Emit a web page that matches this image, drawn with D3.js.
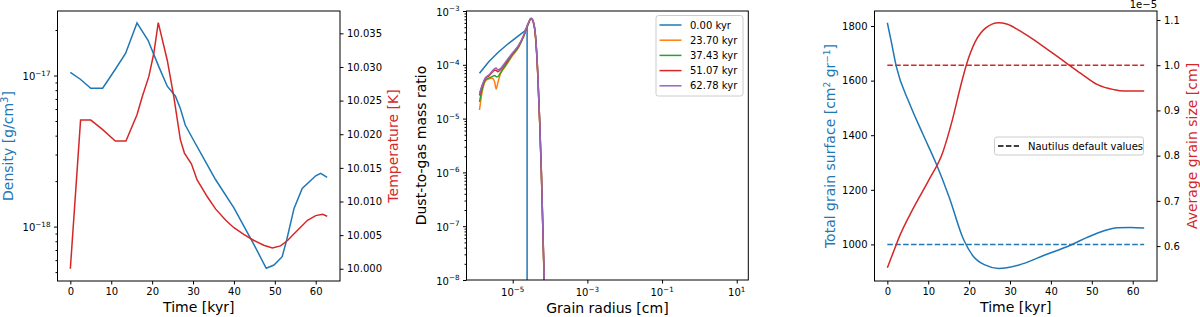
<!DOCTYPE html>
<html>
<head>
<meta charset="utf-8">
<script src="https://cdn.jsdelivr.net/npm/d3@7"></script>
<style>
body { margin: 0; background: #fff; }
svg { font-family: "DejaVu Sans", sans-serif; }
</style>
</head>
<body>
<svg id="chart" width="1200" height="317"></svg>
<script>
// ---- data ----
// panel 1 : density and temperature vs time
const densTime = [0, 2.45, 5.0, 7.9, 11.0, 13.5, 16.3, 19.0, 21.6, 23.7, 25.7, 26.9, 28.1, 30.2, 33.9, 35.5, 40.0, 44.9, 47.9, 49.8, 51.8, 52.9, 54.7, 56.7, 60.0, 61.2, 62.8];
const density = [1.05e-17, 9.45e-18, 8.24e-18, 8.24e-18, 1.10e-17, 1.40e-17, 2.23e-17, 1.71e-17, 1.15e-17, 8.5e-18, 7.3e-18, 6.06e-18, 4.7e-18, 3.7e-18, 2.45e-18, 2.05e-18, 1.33e-18, 7.6e-19, 5.3e-19, 5.57e-19, 6.32e-19, 8.15e-19, 1.32e-18, 1.79e-18, 2.17e-18, 2.25e-18, 2.12e-18];
const tempTime = [0, 2.5, 5.0, 7.7, 11.0, 13.6, 16.3, 17.6, 19.2, 20.4, 21.5, 23.7, 25.3, 26.9, 27.9, 29.6, 31.0, 33.5, 35.5, 38.0, 40.0, 42.4, 44.9, 47.3, 49.4, 51.4, 53.1, 55.5, 58.0, 60.0, 61.7, 62.8];
const temperature = [10.0000, 10.0221, 10.0221, 10.0208, 10.0190, 10.0190, 10.0229, 10.0256, 10.0286, 10.0320, 10.0366, 10.0310, 10.0256, 10.0192, 10.0172, 10.0156, 10.0132, 10.0107, 10.0089, 10.0072, 10.0061, 10.0051, 10.0042, 10.0035, 10.0031, 10.0034, 10.0042, 10.0057, 10.0072, 10.0079, 10.0081, 10.0078];
const densTicks = [1e-18, 1e-17];
const tempTicks = [10.000, 10.005, 10.010, 10.015, 10.020, 10.025, 10.030, 10.035];
const timeTicks = [0, 10, 20, 30, 40, 50, 60];

// panel 2 : dust-to-gas mass ratio vs grain radius (log10 values)
const snapLabels = ["0.00 kyr", "23.70 kyr", "37.43 kyr", "51.07 kyr", "62.78 kyr"];
const snapColors = ["#1f77b4", "#ff7f0e", "#2ca02c", "#d62728", "#9467bd"];
const radiusLog0 = [-5.890, -5.642, -5.374, -5.107, -4.840, -4.679, -4.615, -4.615];
const ratioLog0 = [-4.158, -3.942, -3.757, -3.600, -3.459, -3.372, -3.30, -12];
const radiusLog = [-5.890, -5.818, -5.730, -5.642, -5.551, -5.484, -5.444, -5.401, -5.329, -5.195, -5.016, -4.840, -4.706, -4.588, -4.508, -4.452, -4.393, -4.332, -4.278, -4.233, -4.198, -4.152, -4.107];
const ratioLog23 = [-4.84, -4.50, -4.30, -4.26, -4.25, -4.32, -4.45, -4.34, -4.17, -4.03, -3.84, -3.67, -3.47, -3.25, -3.14, -3.20, -3.46, -4.16, -5.09, -6.02, -6.95, -8.20, -9.45];
const ratioLog37 = [-4.69, -4.45, -4.28, -4.25, -4.22, -4.20, -4.22, -4.22, -4.15, -4.01, -3.82, -3.66, -3.47, -3.25, -3.14, -3.20, -3.45, -4.13, -5.06, -5.99, -6.92, -8.16, -9.40];
const ratioLog51 = [-4.57, -4.40, -4.25, -4.21, -4.14, -4.10, -4.10, -4.13, -4.09, -3.97, -3.80, -3.645, -3.46, -3.24, -3.14, -3.195, -3.44, -4.12, -5.05, -5.98, -6.91, -8.14, -9.40];
const ratioLog62 = [-4.53, -4.375, -4.24, -4.19, -4.12, -4.07, -4.06, -4.09, -4.07, -3.95, -3.79, -3.635, -3.45, -3.23, -3.136, -3.19, -3.43, -4.10, -5.03, -5.96, -6.89, -8.12, -9.40];
const radiusTickExp = [-5, -3, -1, 1];
const ratioTickExp = [-8, -7, -6, -5, -4, -3];

// panel 3 : total grain surface and average grain size vs time
const surfTime = [0, 1.0, 2.2, 5.4, 8.6, 11.9, 15.1, 18.7, 21.1, 24.0, 27.2, 32.0, 38.5, 44.9, 48.9, 53.0, 56.2, 59.4, 62.8];
const surface = [1812, 1740, 1651, 1517, 1407, 1297, 1174, 1016, 955, 924, 912, 924, 961, 998, 1026, 1050, 1061, 1062, 1060];
const sizeTime = [0, 1.4, 3.0, 6.2, 10.2, 13.5, 15.9, 17.9, 19.3, 21.5, 24.0, 27.2, 29.2, 32.0, 35.2, 39.3, 43.3, 47.3, 51.4, 55.4, 57.8, 60.0, 62.8];
const grainSize = [0.552, 0.585, 0.622, 0.681, 0.747, 0.806, 0.879, 0.953, 1.0, 1.052, 1.082, 1.094, 1.091, 1.078, 1.060, 1.034, 1.008, 0.982, 0.957, 0.946, 0.943, 0.943, 0.943]; // x 1e-5 cm
const defaultSurface = 1000;
const defaultSize = 1.0;
const surfTicks = [1000, 1200, 1400, 1600, 1800];
const sizeTicks = [0.6, 0.7, 0.8, 0.9, 1.0, 1.1];

// ---- drawing ----
const BLUE = "#1f77b4", RED = "#d62728";
const svg = d3.select("#chart");

function frame(b) {
    svg.append("rect")
        .attr("x", b.x0).attr("y", b.y0)
        .attr("width", b.x1 - b.x0).attr("height", b.y1 - b.y0)
        .attr("fill", "none").attr("stroke", "#000").attr("stroke-width", 1);
}

function styleAxis(g) {
    g.select(".domain").remove();
    g.selectAll(".tick line").attr("stroke", "#000");
    g.selectAll(".tick text").attr("fill", "#000").attr("font-size", 10)
        .attr("font-family", "DejaVu Sans, sans-serif");
}

function sup(text, base, exp) {
    text.append("tspan").text(base);
    text.append("tspan").attr("dy", -4.5).attr("font-size", "0.72em").text(exp);
}

function ylabel(x, y, color) {
    return svg.append("text")
        .attr("transform", `translate(${x},${y}) rotate(-90)`)
        .attr("text-anchor", "middle").attr("font-size", 14).attr("fill", color);
}

function xlabel(x, y, txt) {
    svg.append("text").attr("x", x).attr("y", y)
        .attr("text-anchor", "middle").attr("font-size", 14).text(txt);
}

// panel 1
const P1 = {x0: 57.5, x1: 340, y0: 11, y1: 281};
const x1 = d3.scaleLinear().domain([-3.14, 65.94]).range([P1.x0, P1.x1]);
const yDens = d3.scaleLog().domain([Math.pow(10, -18.36), Math.pow(10, -16.573)]).range([P1.y1, P1.y0]);
const yTemp = d3.scaleLinear().domain([9.99818, 10.03832]).range([P1.y1, P1.y0]);

svg.append("g").attr("transform", `translate(0,${P1.y1})`)
    .call(d3.axisBottom(x1).tickValues(timeTicks).tickSize(3.5).tickPadding(3).tickSizeOuter(0))
    .call(styleAxis);

const densMinor = [];
[-19, -18, -17].forEach(k => d3.range(2, 10).forEach(m => {
    const v = m * Math.pow(10, k);
    if (v > yDens.domain()[0] && v < yDens.domain()[1]) densMinor.push(v);
}));
svg.append("g").attr("transform", `translate(${P1.x0},0)`)
    .call(d3.axisLeft(yDens).tickValues(densMinor).tickSize(2).tickFormat("").tickSizeOuter(0))
    .call(styleAxis);
svg.append("g").attr("transform", `translate(${P1.x0},0)`)
    .call(d3.axisLeft(yDens).tickValues(densTicks).tickSize(3.5).tickFormat("").tickSizeOuter(0))
    .call(styleAxis);
densTicks.forEach(v => {
    const t = svg.append("text").attr("x", P1.x0 - 7).attr("y", yDens(v) + 4.5)
        .attr("text-anchor", "end").attr("font-size", 10);
    sup(t, "10", "\u2212" + Math.round(-Math.log10(v)));
});

svg.append("g").attr("transform", `translate(${P1.x1},0)`)
    .call(d3.axisRight(yTemp).tickValues(tempTicks).tickSize(3.5).tickPadding(3.5)
        .tickFormat(d3.format(".3f")).tickSizeOuter(0))
    .call(styleAxis);

svg.append("path")
    .attr("d", d3.line().x(d => x1(d[0])).y(d => yDens(d[1]))(d3.zip(densTime, density)))
    .attr("fill", "none").attr("stroke", BLUE).attr("stroke-width", 1.5);
svg.append("path")
    .attr("d", d3.line().x(d => x1(d[0])).y(d => yTemp(d[1]))(d3.zip(tempTime, temperature)))
    .attr("fill", "none").attr("stroke", RED).attr("stroke-width", 1.5);
frame(P1);

xlabel((P1.x0 + P1.x1) / 2, 312, "Time [kyr]");
let lab = ylabel(13, (P1.y0 + P1.y1) / 2, BLUE);
lab.append("tspan").text("Density [g/cm");
lab.append("tspan").attr("dy", -5).attr("font-size", 10).text("3");
lab.append("tspan").attr("dy", 5).text("]");
ylabel(398, (P1.y0 + P1.y1) / 2, RED).text("Temperature [K]");

// panel 2
const P2 = {x0: 466.5, x1: 748.3, y0: 11, y1: 280};
const x2 = d3.scaleLog().domain([Math.pow(10, -6.238), Math.pow(10, 1.31)]).range([P2.x0, P2.x1]);
const y2 = d3.scaleLog().domain([1e-8, 1e-3]).range([P2.y1, P2.y0]);

svg.append("defs").append("clipPath").attr("id", "clip2")
    .append("rect").attr("x", P2.x0).attr("y", P2.y0)
    .attr("width", P2.x1 - P2.x0).attr("height", P2.y1 - P2.y0);

svg.append("g").attr("transform", `translate(0,${P2.y1})`)
    .call(d3.axisBottom(x2).tickValues(radiusTickExp.map(e => Math.pow(10, e)))
        .tickSize(3.5).tickFormat("").tickSizeOuter(0))
    .call(styleAxis);
radiusTickExp.forEach(e => {
    const t = svg.append("text").attr("x", x2(Math.pow(10, e))).attr("y", 296)
        .attr("text-anchor", "middle").attr("font-size", 10);
    sup(t, "10", e < 0 ? "\u2212" + (-e) : String(e));
});

const ratioMinor = [];
ratioTickExp.slice(0, -1).forEach(k => d3.range(2, 10).forEach(m => ratioMinor.push(m * Math.pow(10, k))));
svg.append("g").attr("transform", `translate(${P2.x0},0)`)
    .call(d3.axisLeft(y2).tickValues(ratioMinor).tickSize(2).tickFormat("").tickSizeOuter(0))
    .call(styleAxis);
svg.append("g").attr("transform", `translate(${P2.x0},0)`)
    .call(d3.axisLeft(y2).tickValues(ratioTickExp.map(e => Math.pow(10, e)))
        .tickSize(3.5).tickFormat("").tickSizeOuter(0))
    .call(styleAxis);
ratioTickExp.forEach(e => {
    const t = svg.append("text").attr("x", P2.x0 - 7).attr("y", y2(Math.pow(10, e)) + 4.5)
        .attr("text-anchor", "end").attr("font-size", 10);
    sup(t, "10", "\u2212" + (-e));
});

const snaps = [
    [radiusLog0, ratioLog0],
    [radiusLog, ratioLog23],
    [radiusLog, ratioLog37],
    [radiusLog, ratioLog51],
    [radiusLog, ratioLog62]
];
const plot2 = svg.append("g").attr("clip-path", "url(#clip2)");
snaps.forEach((s, i) => {
    const pts = d3.zip(s[0], s[1]).map(p => [Math.pow(10, p[0]), Math.pow(10, p[1])]);
    const gen = d3.line().x(d => x2(d[0])).y(d => y2(d[1]))
        .curve(i === 0 ? d3.curveLinear : d3.curveMonotoneX);
    plot2.append("path").attr("d", gen(pts))
        .attr("fill", "none").attr("stroke", snapColors[i]).attr("stroke-width", 1.5);
});
frame(P2);

const leg2 = svg.append("g");
leg2.append("rect").attr("x", 656).attr("y", 15.5).attr("width", 87).attr("height", 80.5)
    .attr("rx", 2.5).attr("fill", "#fff").attr("fill-opacity", 0.8)
    .attr("stroke", "#ccc").attr("stroke-width", 1);
snapLabels.forEach((l, i) => {
    const yy = 25 + i * 15.2;
    leg2.append("line").attr("x1", 659.5).attr("x2", 681.5).attr("y1", yy).attr("y2", yy)
        .attr("stroke", snapColors[i]).attr("stroke-width", 1.5);
    leg2.append("text").attr("x", 690).attr("y", yy + 3.6).attr("font-size", 10).text(l);
});

xlabel((P2.x0 + P2.x1) / 2, 313, "Grain radius [cm]");
ylabel(426, (P2.y0 + P2.y1) / 2, "#000").text("Dust-to-gas mass ratio");

// panel 3
const P3 = {x0: 874.5, x1: 1157, y0: 11, y1: 281};
const x3 = d3.scaleLinear().domain([-3.14, 65.94]).range([P3.x0, P3.x1]);
const ySurf = d3.scaleLinear().domain([866, 1855]).range([P3.y1, P3.y0]);
const ySize = d3.scaleLinear().domain([0.5228, 1.1199]).range([P3.y1, P3.y0]);

svg.append("g").attr("transform", `translate(0,${P3.y1})`)
    .call(d3.axisBottom(x3).tickValues(timeTicks).tickSize(3.5).tickPadding(3).tickSizeOuter(0))
    .call(styleAxis);
svg.append("g").attr("transform", `translate(${P3.x0},0)`)
    .call(d3.axisLeft(ySurf).tickValues(surfTicks).tickSize(3.5).tickPadding(3.5)
        .tickFormat(d3.format("d")).tickSizeOuter(0))
    .call(styleAxis);
svg.append("g").attr("transform", `translate(${P3.x1},0)`)
    .call(d3.axisRight(ySize).tickValues(sizeTicks).tickSize(3.5).tickPadding(3.5)
        .tickFormat(d3.format(".1f")).tickSizeOuter(0))
    .call(styleAxis);
svg.append("text").attr("x", P3.x1).attr("y", 8).attr("text-anchor", "end")
    .attr("font-size", 10).text("1e\u22125");

const tEnds = [0, d3.max(surfTime)];
svg.append("path")
    .attr("d", d3.line().x(d => x3(d)).y(() => ySurf(defaultSurface))(tEnds))
    .attr("stroke", BLUE).attr("stroke-width", 1.5).attr("stroke-dasharray", "5.5,2.4");
svg.append("path")
    .attr("d", d3.line().x(d => x3(d)).y(() => ySize(defaultSize))(tEnds))
    .attr("stroke", RED).attr("stroke-width", 1.5).attr("stroke-dasharray", "5.5,2.4");
svg.append("path")
    .attr("d", d3.line().x(d => x3(d[0])).y(d => ySurf(d[1])).curve(d3.curveMonotoneX)(d3.zip(surfTime, surface)))
    .attr("fill", "none").attr("stroke", BLUE).attr("stroke-width", 1.5);
svg.append("path")
    .attr("d", d3.line().x(d => x3(d[0])).y(d => ySize(d[1])).curve(d3.curveMonotoneX)(d3.zip(sizeTime, grainSize)))
    .attr("fill", "none").attr("stroke", RED).attr("stroke-width", 1.5);
frame(P3);

const leg3 = svg.append("g");
leg3.append("rect").attr("x", 994.5).attr("y", 137).attr("width", 149).attr("height", 18)
    .attr("rx", 2.5).attr("fill", "#fff").attr("fill-opacity", 0.8)
    .attr("stroke", "#ccc").attr("stroke-width", 1);
leg3.append("line").attr("x1", 998).attr("x2", 1019).attr("y1", 146).attr("y2", 146)
    .attr("stroke", "#000").attr("stroke-width", 1.5).attr("stroke-dasharray", "5.5,2.4");
leg3.append("text").attr("x", 1028).attr("y", 149.6).attr("font-size", 10).text("Nautilus default values");

xlabel((P3.x0 + P3.x1) / 2, 312, "Time [kyr]");
lab = ylabel(835, (P3.y0 + P3.y1) / 2, BLUE);
lab.append("tspan").text("Total grain surface [cm");
lab.append("tspan").attr("dy", -5).attr("font-size", 9).text("2");
lab.append("tspan").attr("dy", 5).text(" gr");
lab.append("tspan").attr("dy", -5).attr("font-size", 9).text("\u22121");
lab.append("tspan").attr("dy", 5).text("]");
ylabel(1196.5, (P3.y0 + P3.y1) / 2, RED).text("Average grain size [cm]");
</script>
</body>
</html>
